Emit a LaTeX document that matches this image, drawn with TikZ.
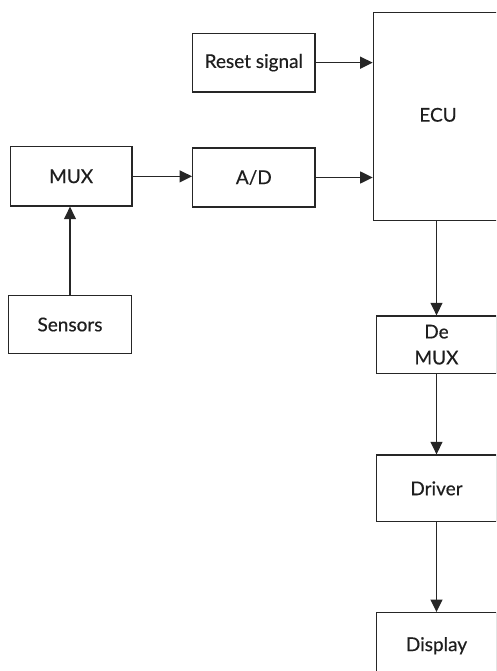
\documentclass[tikz,border=0pt]{standalone}
\usepackage{fontspec}
\setmainfont{Lato}[FakeBold=0.4]
\usetikzlibrary{arrows.meta}
\definecolor{linec}{HTML}{262626}
\definecolor{textc}{HTML}{1E1E1E}
\begin{document}
\begin{tikzpicture}[x=1pt,y=-1pt,
  box/.style={draw=linec, line width=1.35pt, fill=white, text=textc,
    font=\fontsize{19}{26}\selectfont, inner sep=0pt, align=center},
  conn/.style={draw=linec, line width=1.35pt, -{Triangle[length=12.5pt,width=12pt]}}]
\useasboundingbox (0,0) rectangle (496,671);
\clip (0,0) rectangle (496,671);
\node[box, minimum width=129.4pt, minimum height=208.4pt] (ecu) at (438,116.5) {\raisebox{3.5pt}{ECU}};
\node[box, minimum width=122.3pt, minimum height=58.7pt] (reset) at (253.85,62.65) {Reset signal};
\node[box, minimum width=122.3pt, minimum height=59pt] (ad) at (253.85,177.5) {A/D};
\node[box, minimum width=121.7pt, minimum height=59.3pt] (mux) at (71.15,176.35) {MUX};
\node[box, minimum width=123.4pt, minimum height=57.6pt] (sens) at (70,324.5) {Sensors};
\node[box, minimum width=119.5pt, minimum height=57.3pt] (demux) at (436.5,344.65) {De\\MUX};
\node[box, minimum width=119.5pt, minimum height=66.7pt] (driver) at (436.5,488.35) {Driver};
\node[box, minimum width=119.5pt, minimum height=66pt] (display) at (436.5,645.7) {Display};
\draw[conn] (reset.east) -- (reset.east -| ecu.west);
\draw[conn] (ad.east) -- (ad.east -| ecu.west);
\draw[conn] (mux.east) -- (mux.east -| ad.west);
\draw[conn] (sens.north) -- (sens.north |- mux.south);
\draw[conn] (ecu.south -| demux.north) -- (demux.north);
\draw[conn] (demux.south) -- (driver.north);
\draw[conn] (driver.south) -- (display.north);
\end{tikzpicture}
\end{document}
